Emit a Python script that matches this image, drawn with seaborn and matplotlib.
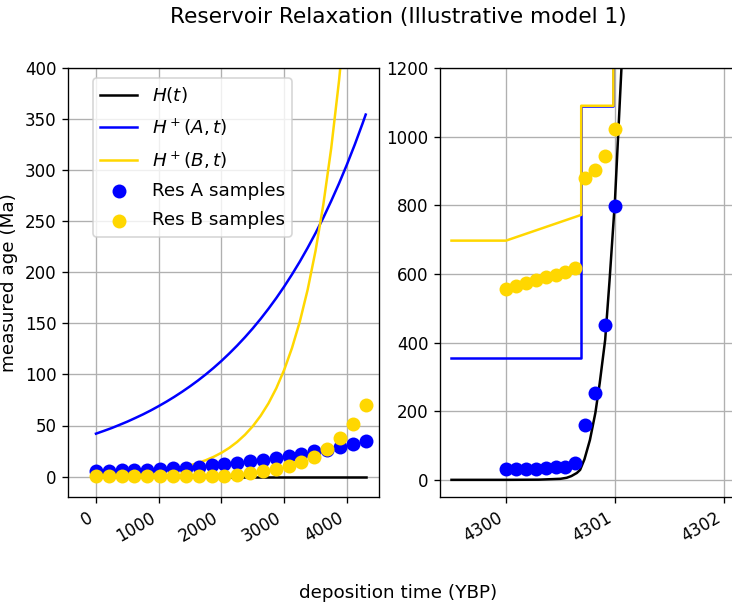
import matplotlib
matplotlib.use("Agg")
import matplotlib.pyplot as plt
import seaborn as sns

# ---------------- data ----------------
# Left panel: curves
t_curve = [0, 125, 250, 375, 500, 625, 750, 875, 1000, 1125, 1250, 1375,
           1500, 1625, 1750, 1875, 2000, 2125, 2250, 2375, 2500, 2625,
           2750, 2875, 3000, 3125, 3250, 3375, 3500, 3625, 3750, 3875,
           4000, 4125, 4250, 4300]
H_left = [0] * len(t_curve)
Hplus_A_left = [42.0, 44.7, 47.5, 50.6, 53.8, 57.3, 60.9, 64.8, 69.0, 73.4,
                78.1, 83.1, 88.4, 94.0, 100.0, 106.4, 113.2, 120.5, 128.2,
                136.4, 145.1, 154.4, 164.3, 174.8, 186.0, 197.9, 210.5,
                224.0, 238.3, 253.5, 269.8, 287.0, 305.4, 324.9, 345.7, 354.4]
Hplus_B_left = [1.16, 1.40, 1.69, 2.04, 2.46, 2.96, 3.57, 4.31, 5.20, 6.27,
                7.56, 9.12, 11.0, 13.3, 16.0, 19.3, 23.3, 28.1, 33.9, 40.9,
                49.3, 59.5, 71.7, 86.5, 104.4, 125.9, 151.8, 183.1, 220.9,
                266.5, 321.4, 387.7, 467.6, 564, 680, 734]

# Left panel: samples
t_samples = [0, 205, 410, 614, 819, 1024, 1229, 1433, 1638, 1843, 2048,
             2252, 2457, 2662, 2867, 3071, 3276, 3481, 3686, 3890, 4095, 4300]
resA_left = [5.5, 5.8, 6, 6.5, 6.8, 7.5, 8, 8.5, 9.5, 11.5, 12.1,
             13.1, 15.4, 16.4, 18, 19.7, 22, 24.6, 26, 28.5, 31.8, 35]
resB_left = [0.3, 0.3, 0.3, 0.4, 0.4, 0.5, 0.5, 0.6, 0.7, 0.7, 0.7,
             1.6, 3.3, 5.6, 7.6, 10.5, 14, 19, 27, 38, 51, 70]

# Right panel: curves
t_H_right = [4299.5, 4300.0, 4300.3, 4300.5, 4300.557, 4300.6, 4300.65,
             4300.68, 4300.72, 4300.77, 4300.82, 4300.86, 4300.91,
             4300.95, 4301.0, 4301.06, 4301.1]
H_right = [0, 0, 0.5, 3, 6, 11, 20, 29, 60, 116, 195, 282, 408,
           580, 815, 1204, 1450]
t_A_step = [4299.5, 4300.69, 4300.69, 4300.69, 4300.985, 4300.985]
Hplus_A_right = [355, 355, 772, 1090, 1090, 1500]
t_B_step = [4299.5, 4300.0, 4300.69, 4300.69, 4300.985, 4300.985]
Hplus_B_right = [697, 697, 772, 1090, 1090, 1500]

# Right panel: samples
t_samples_right = [4300.0, 4300.0909, 4300.1818, 4300.2727, 4300.3636,
                   4300.4545, 4300.5455, 4300.6364, 4300.7273, 4300.8182,
                   4300.9091, 4301.0]
resA_right = [33, 33, 33, 33, 34, 36, 37, 48, 160, 252, 450, 797]
resB_right = [557, 565, 573, 581, 590, 597, 606, 616, 880, 903, 944, 1021]

left_xticks = [0, 1000, 2000, 3000, 4000]
left_yticks = [0, 50, 100, 150, 200, 250, 300, 350, 400]
right_xticks = [4300, 4301, 4302]
right_xticklabels = ["4300", "4301", "4302"]
right_yticks = [0, 200, 400, 600, 800, 1000, 1200]

labels = [r"$H(t)$", r"$H^+(A,t)$", r"$H^+(B,t)$", "Res A samples", "Res B samples"]
title = "Reservoir Relaxation (Illustrative model 1)"
ylabel = "measured age (Ma)"
xlabel = "deposition time (YBP)"

C_H = "black"
C_A = "blue"
C_B = "gold"

# ---------------- figure ----------------
DPI = 120
fig = plt.figure(figsize=(732 / DPI, 606 / DPI), dpi=DPI)
W, Hh = 732, 606
ax1 = fig.add_axes([68 / W, 1 - 497 / Hh, 311 / W, 429 / Hh])
ax2 = fig.add_axes([440 / W, 1 - 497 / Hh, 311 / W, 429 / Hh])

lw = 1.5
ms = 70

# Left panel
sns.lineplot(x=t_curve, y=H_left, color=C_H, lw=lw, label=labels[0],
             estimator=None, sort=False, ax=ax1)
sns.lineplot(x=t_curve, y=Hplus_A_left, color=C_A, lw=lw, label=labels[1],
             estimator=None, sort=False, ax=ax1)
sns.lineplot(x=t_curve, y=Hplus_B_left, color=C_B, lw=lw, label=labels[2],
             estimator=None, sort=False, ax=ax1)
sns.scatterplot(x=t_samples, y=resA_left, color=C_A, s=ms, linewidth=0,
                label=labels[3], zorder=3, ax=ax1)
sns.scatterplot(x=t_samples, y=resB_left, color=C_B, s=ms, linewidth=0,
                label=labels[4], zorder=3, ax=ax1)

ax1.set_xlim(-446, 4512)
ax1.set_ylim(-20, 400)
ax1.set_xticks(left_xticks)
ax1.set_yticks(left_yticks)
ax1.grid(True)
ax1.set_xlabel("")
ax1.set_ylabel(ylabel, fontsize=11)
ax1.tick_params(labelsize=10)
plt.setp(ax1.get_xticklabels(), rotation=30, ha="right")
leg = ax1.legend(loc="upper left", bbox_to_anchor=(25 / 311, 1 - 10 / 429),
                 borderaxespad=0, fontsize=11, labelspacing=0.62)

# Right panel
sns.lineplot(x=t_H_right, y=H_right, color=C_H, lw=lw,
             estimator=None, sort=False, ax=ax2)
sns.lineplot(x=t_A_step, y=Hplus_A_right, color=C_A, lw=lw,
             estimator=None, sort=False, ax=ax2)
sns.lineplot(x=t_B_step, y=Hplus_B_right, color=C_B, lw=lw,
             estimator=None, sort=False, ax=ax2)
sns.scatterplot(x=t_samples_right, y=resA_right, color=C_A, s=ms,
                linewidth=0, zorder=3, ax=ax2)
sns.scatterplot(x=t_samples_right, y=resB_right, color=C_B, s=ms,
                linewidth=0, zorder=3, ax=ax2)
if ax2.get_legend() is not None:
    ax2.get_legend().remove()

ax2.set_xlim(4299.3945, 4302.248)
ax2.set_ylim(-50, 1200)
ax2.set_xticks(right_xticks)
ax2.set_xticklabels(right_xticklabels)
ax2.set_yticks(right_yticks)
ax2.grid(True)
ax2.set_xlabel("")
ax2.set_ylabel("")
ax2.tick_params(labelsize=10)
plt.setp(ax2.get_xticklabels(), rotation=30, ha="right")

fig.suptitle(title, x=398 / W, y=1 - 7 / Hh, va="top", fontsize=13)
fig.supxlabel(xlabel, x=398 / W, y=0.006, fontsize=11)

fig.savefig("out.png", dpi=DPI)
